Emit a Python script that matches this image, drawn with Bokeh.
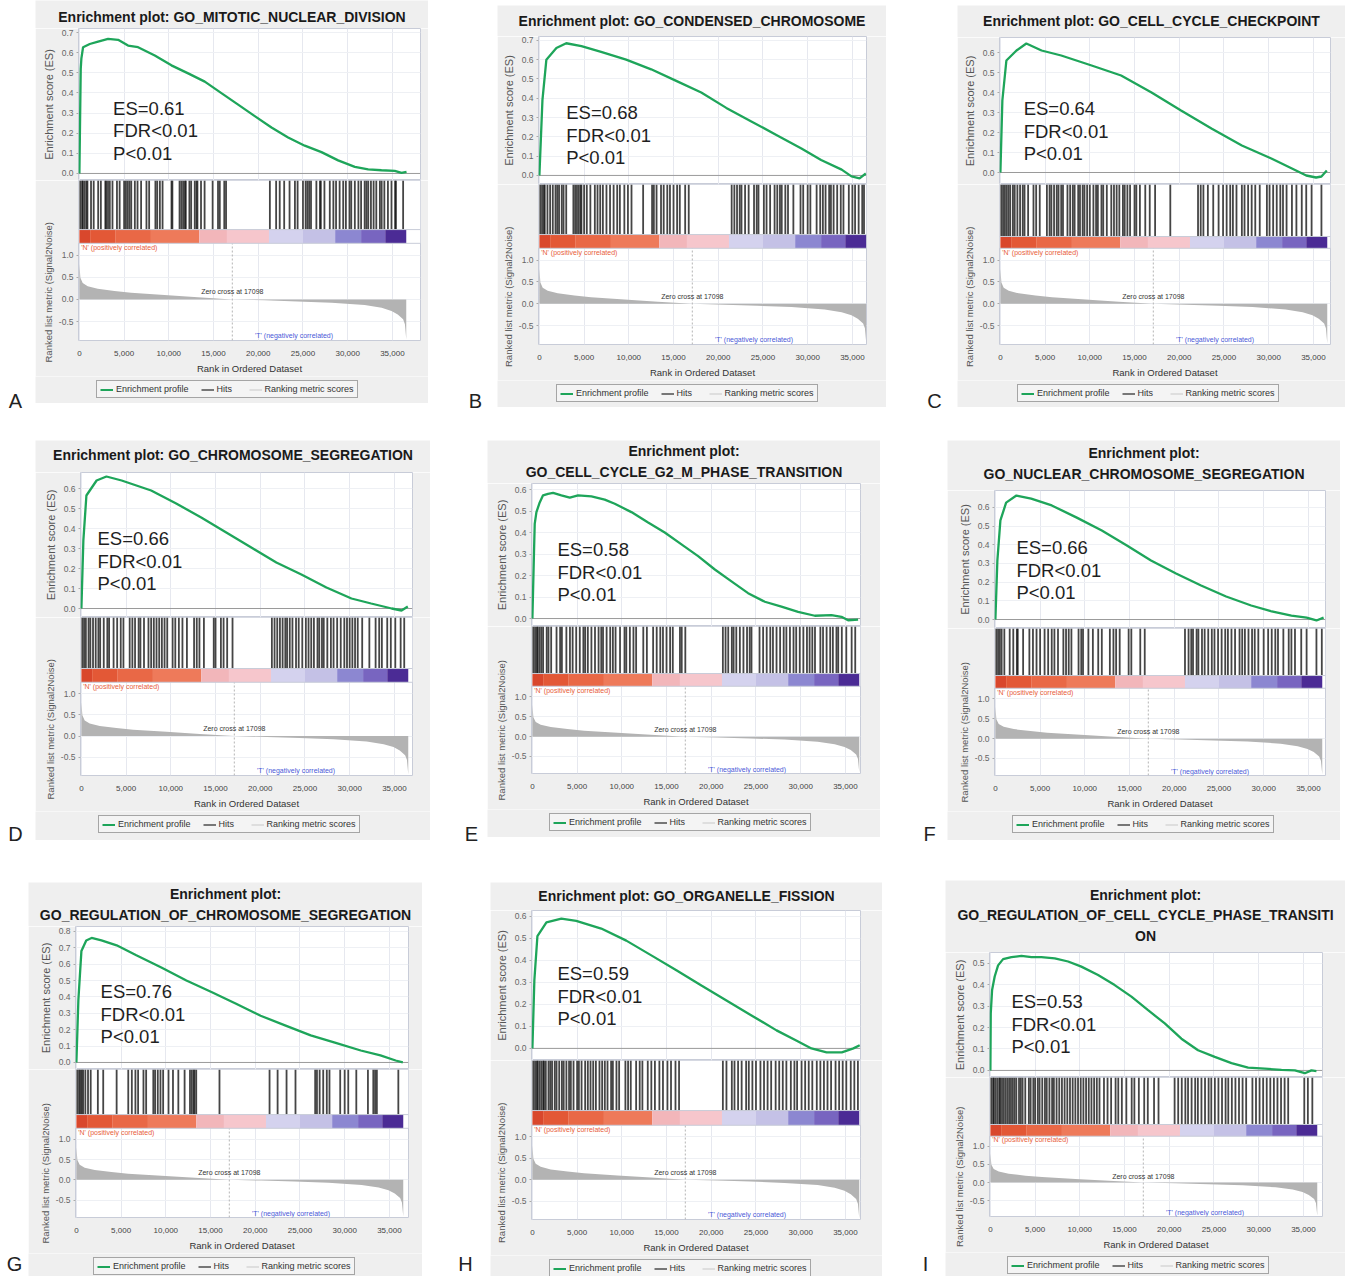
import numpy as np
from bokeh.plotting import figure
from bokeh.layouts import column, row
from bokeh.models import (Range1d, FixedTicker, NumeralTickFormatter, Label, Span, Title,
                          Legend, LegendItem, Spacer)
from bokeh.embed import file_html
from bokeh.resources import INLINE

# ---------------------------------------------------------------- data
panel_letters = ["A", "B", "C", "D", "E", "F", "G", "H", "I"]
gene_set_titles = [
    ["Enrichment plot: GO_MITOTIC_NUCLEAR_DIVISION"],
    ["Enrichment plot: GO_CONDENSED_CHROMOSOME"],
    ["Enrichment plot: GO_CELL_CYCLE_CHECKPOINT"],
    ["Enrichment plot: GO_CHROMOSOME_SEGREGATION"],
    ["Enrichment plot:", "GO_CELL_CYCLE_G2_M_PHASE_TRANSITION"],
    ["Enrichment plot:", "GO_NUCLEAR_CHROMOSOME_SEGREGATION"],
    ["Enrichment plot:", "GO_REGULATION_OF_CHROMOSOME_SEGREGATION"],
    ["Enrichment plot: GO_ORGANELLE_FISSION"],
    ["Enrichment plot:", "GO_REGULATION_OF_CELL_CYCLE_PHASE_TRANSITI", "ON"],
]
es_scores = [0.61, 0.68, 0.64, 0.66, 0.58, 0.66, 0.76, 0.59, 0.53]
fdr_label = "FDR<0.01"
p_label = "P<0.01"
es_tick_top = [0.7, 0.7, 0.6, 0.6, 0.6, 0.6, 0.8, 0.6, 0.5]

zero_cross = 17098
x_ticks = [0, 5000, 10000, 15000, 20000, 25000, 30000, 35000]
metric_ticks = [-0.5, 0.0, 0.5, 1.0]

# ranked list metric (shared by all gene sets), rank in thousands
metric_rank_k = [0, 0.11, 0.37, 0.93, 2.05, 3.92, 5.78, 9.51, 13.24, 17.098, 20.7,
                 24.4, 28.2, 31.9, 33.8, 34.9, 35.6, 36.2, 36.4, 36.55]
metric_value = [0.8, 0.49, 0.37, 0.3, 0.24, 0.19, 0.15, 0.1, 0.05, 0.0, -0.02,
                -0.045, -0.075, -0.127, -0.19, -0.26, -0.34, -0.45, -0.56, -0.9]

# colour bar of the ranked list (rank in thousands)
band_edges_k = [0, 1.2, 4.0, 8.0, 13.4, 16.5, 21.2, 25.0, 28.6, 31.5, 34.2, 36.55]
band_colors = ["#d9472c", "#e35836", "#e96846", "#ee7a5a", "#f2b6ba", "#f6c6cc",
               "#d4d2ee", "#c4c1e6", "#8c87d1", "#7865c0", "#4b2b95"]

# running enrichment score profiles (rank in thousands)
es_rank_a = [0, 0.15, 0.22, 0.41, 1.16, 2.09, 3.21, 4.33, 5.44, 6.56, 8.43, 10.29, 12.16, 14.02,
             15.88, 17.75, 19.61, 21.48, 23.34, 25.2, 27.07, 28.93, 30.8, 32.29, 33.78, 35.27, 36.02, 36.58]
es_score_a = [0, 0.52, 0.57, 0.627, 0.643, 0.655, 0.668, 0.664, 0.635, 0.627, 0.586, 0.537, 0.497, 0.456,
              0.399, 0.342, 0.285, 0.228, 0.179, 0.138, 0.106, 0.065, 0.033, 0.02, 0.016, 0.013, 0.003, 0.008]
es_rank_b = [0, 0.34, 0.78, 1.9, 3.0, 4.7, 6.9, 9.7, 12.5, 15.3, 18.1, 20.9, 23.7, 26.5, 29.3,
             31.5, 33.8, 34.9, 35.8, 36.5]
es_score_b = [0, 0.39, 0.6, 0.66, 0.685, 0.67, 0.64, 0.6, 0.55, 0.49, 0.43, 0.35, 0.28, 0.21, 0.14,
              0.08, 0.03, -0.005, -0.015, 0.01]
es_rank_c = [0, 0.22, 0.67, 1.8, 2.9, 4.6, 6.8, 10.2, 13.5, 16.9, 20.2, 23.6, 27.0, 30.3, 32.6,
             34.2, 35.3, 35.9, 36.5]
es_score_c = [0, 0.36, 0.56, 0.61, 0.645, 0.61, 0.585, 0.535, 0.485, 0.40, 0.31, 0.22, 0.135, 0.07, 0.02,
              -0.015, -0.025, -0.02, 0.01]
es_rank_d = [0, 0.22, 0.56, 1.7, 2.8, 4.5, 7.8, 10.6, 13.4, 16.2, 19.0, 21.8, 24.6, 27.4, 30.2,
             32.4, 34.7, 35.8, 36.5]
es_score_d = [0, 0.34, 0.565, 0.64, 0.66, 0.64, 0.59, 0.525, 0.455, 0.38, 0.305, 0.23, 0.17, 0.105, 0.05,
              0.025, 0.0, -0.01, 0.01]
es_rank_e = [0, 0.18, 0.26, 0.45, 0.82, 1.19, 1.75, 2.31, 3.24, 4.18, 5.11, 6.6, 8.09, 9.21, 11.07,
             12.94, 14.8, 16.67, 18.53, 20.4, 22.26, 24.12, 25.99, 27.85, 29.71, 31.58, 33.44, 34.56, 35.3, 36.42]
es_score_e = [0, 0.31, 0.44, 0.495, 0.54, 0.573, 0.58, 0.584, 0.573, 0.562, 0.573, 0.568, 0.553, 0.534, 0.495,
              0.447, 0.4, 0.345, 0.29, 0.228, 0.173, 0.118, 0.078, 0.055, 0.031, 0.013, 0.016, 0.008, -0.008, -0.005]
es_rank_f = [0, 0.22, 0.56, 1.2, 2.35, 4.0, 6.3, 9.1, 11.9, 14.7, 17.4, 20.2, 23.0, 25.8, 28.6,
             30.9, 33.1, 34.8, 35.9, 36.7]
es_score_f = [0, 0.315, 0.53, 0.625, 0.663, 0.647, 0.61, 0.545, 0.476, 0.396, 0.316, 0.246, 0.182, 0.123, 0.075,
              0.043, 0.021, 0.01, -0.005, 0.01]
es_rank_g = [0, 0.22, 0.56, 1.1, 1.7, 2.8, 4.5, 6.7, 9.5, 12.3, 15.1, 17.8, 20.6, 23.4, 26.2,
             29.0, 31.8, 34.0, 35.7, 36.5]
es_score_g = [0, 0.38, 0.68, 0.745, 0.76, 0.745, 0.715, 0.655, 0.58, 0.5, 0.43, 0.36, 0.285, 0.225, 0.165,
              0.12, 0.073, 0.043, 0.012, 0.0]
es_rank_h = [0, 0.22, 0.56, 1.57, 3.24, 4.9, 7.7, 10.5, 13.3, 16.1, 18.9, 21.7, 24.5, 27.3, 29.5,
             31.2, 32.9, 34.6, 35.9, 36.6]
es_score_h = [0, 0.31, 0.51, 0.573, 0.59, 0.58, 0.545, 0.49, 0.423, 0.355, 0.286, 0.218, 0.15, 0.082, 0.036,
              0.0, -0.018, -0.018, 0.0, 0.014]
es_rank_i = [0, 0.04, 0.19, 0.48, 0.86, 1.42, 2.35, 3.47, 4.59, 5.7, 7.2, 8.69, 10.17, 12.04, 13.9,
             15.77, 17.63, 19.5, 21.36, 23.22, 25.09, 26.96, 28.82, 30.68, 32.55, 34.04, 35.16, 35.9, 36.46]
es_score_i = [0, 0.266, 0.375, 0.438, 0.49, 0.519, 0.528, 0.534, 0.528, 0.528, 0.523, 0.508, 0.484, 0.445, 0.398,
              0.344, 0.281, 0.219, 0.148, 0.094, 0.063, 0.034, 0.013, 0.008, 0.003, 0.0, -0.013, 0.0, -0.003]

# positions of gene-set members in the ranked list (rank in thousands)
hits_a = [0.1, 0.3, 0.4, 0.6, 0.8, 0.9, 1.3, 1.6, 2.1, 2.4, 2.9, 3.0, 3.2, 3.4, 3.7, 4.2, 4.5, 5.0, 5.2,
          5.4, 5.6, 5.8, 6.2, 6.5, 6.9, 7.5, 7.8, 8.5, 8.7, 9.0, 9.3, 10.3, 10.4, 11.2, 11.4, 11.6, 11.8,
          11.9, 12.3, 12.5, 12.9, 13.1, 13.2, 13.6, 14.0, 14.9, 15.5, 15.7, 16.2, 16.4, 21.3, 22.0, 22.4,
          22.9, 23.5, 24.1, 24.4, 25.0, 25.3, 25.5, 25.7, 25.9, 26.5, 26.9, 27.0, 27.4, 28.0, 28.4, 28.7,
          29.1, 29.5, 29.8, 30.2, 30.4, 30.8, 31.2, 31.5, 31.9, 32.1, 32.3, 32.6, 32.9, 33.2, 33.6, 33.8,
          34.1, 34.5, 34.9, 35.3, 35.4, 36.2]
hits_b = [0.1, 0.3, 0.5, 0.6, 0.9, 1.2, 1.5, 1.8, 2.0, 2.2, 2.5, 2.7, 3.0, 3.8, 4.0, 4.2, 4.4, 4.6, 4.7,
          5.0, 5.3, 5.7, 6.2, 6.5, 6.8, 7.1, 7.5, 7.9, 8.3, 8.7, 9.0, 9.5, 9.9, 10.3, 11.6, 12.6, 12.8,
          13.1, 13.6, 13.9, 14.3, 14.6, 15.0, 15.4, 15.7, 16.3, 16.7, 21.5, 21.8, 22.1, 22.4, 22.6, 23.0,
          23.4, 24.0, 24.3, 24.5, 25.1, 25.4, 25.8, 26.3, 26.6, 26.9, 27.1, 27.5, 27.8, 28.4, 29.2, 29.5,
          30.0, 30.3, 31.0, 31.4, 31.7, 32.0, 32.4, 32.6, 32.9, 33.3, 33.7, 34.0, 34.6, 35.0, 35.3, 35.7,
          36.1, 36.3]
hits_c = [0.1, 0.3, 0.5, 0.7, 0.9, 1.1, 1.4, 1.6, 1.9, 2.2, 2.5, 2.7, 3.1, 3.7, 4.0, 4.4, 5.2, 5.5, 5.7,
          6.0, 6.3, 6.5, 6.8, 7.0, 7.5, 7.8, 8.1, 8.3, 8.7, 8.9, 9.2, 9.4, 9.7, 10.0, 10.4, 10.7, 10.9,
          11.3, 11.5, 11.9, 12.4, 12.7, 13.0, 13.3, 13.7, 13.9, 14.2, 14.5, 15.0, 15.2, 15.6, 16.2, 16.7,
          17.3, 19.0, 22.1, 22.4, 22.7, 23.2, 23.8, 24.4, 24.9, 25.3, 25.7, 26.0, 26.4, 27.0, 27.3, 27.7,
          28.1, 28.5, 29.0, 29.8, 30.1, 30.5, 30.9, 31.3, 31.6, 32.0, 32.6, 33.1, 33.7, 34.2, 34.8, 35.9]
hits_d = [0.1, 0.3, 0.5, 0.8, 1.0, 1.3, 1.6, 1.9, 2.1, 2.5, 2.9, 3.1, 3.6, 4.0, 4.4, 4.7, 5.4, 5.7, 6.0,
          6.4, 6.6, 7.0, 7.5, 7.8, 8.1, 8.4, 8.7, 9.0, 9.3, 9.6, 10.2, 10.5, 10.9, 11.3, 11.8, 12.6, 12.9,
          13.2, 13.7, 14.8, 15.0, 15.6, 15.9, 16.3, 16.9, 21.3, 21.6, 21.9, 22.2, 22.5, 22.8, 23.0, 23.3,
          23.6, 24.0, 24.3, 24.7, 25.1, 25.4, 25.7, 26.0, 26.4, 26.6, 26.9, 27.1, 27.5, 27.9, 28.2, 28.6,
          29.0, 29.4, 29.7, 30.0, 30.3, 30.6, 30.9, 31.4, 32.2, 32.9, 33.3, 33.6, 34.2, 34.6, 35.1, 35.7, 36.1]
hits_e = [0.1, 0.3, 0.5, 0.6, 0.8, 1.0, 1.2, 1.6, 1.8, 2.1, 2.7, 3.1, 3.3, 3.8, 4.2, 4.5, 4.9, 5.3, 5.7,
          5.9, 6.2, 6.6, 7.0, 7.4, 7.7, 7.9, 8.3, 8.7, 9.0, 9.3, 9.8, 10.3, 10.5, 10.9, 11.3, 11.6, 12.4,
          12.8, 13.5, 13.9, 14.3, 14.6, 15.0, 15.4, 15.7, 16.5, 16.7, 17.1, 21.3, 21.6, 21.9, 22.3, 22.5,
          22.8, 23.2, 23.6, 24.0, 24.3, 24.5, 25.4, 25.8, 26.2, 26.6, 26.9, 27.3, 27.7, 28.1, 28.4, 28.8,
          29.2, 29.5, 29.9, 30.3, 30.7, 31.0, 31.3, 31.6, 32.2, 32.5, 32.9, 33.3, 33.6, 34.0, 34.2, 34.6,
          35.1, 35.7, 36.1]
hits_f = [0.1, 0.3, 0.5, 0.7, 1.0, 1.6, 2.0, 2.4, 2.5, 3.1, 3.8, 4.2, 4.6, 5.0, 5.5, 5.9, 6.3, 6.6, 7.0,
          7.6, 7.9, 8.2, 8.5, 9.3, 9.6, 9.8, 10.4, 10.9, 11.5, 11.9, 12.8, 13.2, 13.5, 13.9, 14.9, 15.2,
          16.2, 16.7, 21.2, 21.6, 21.9, 22.1, 22.5, 22.7, 23.1, 23.4, 23.8, 24.2, 24.5, 24.9, 25.3, 25.7,
          26.0, 26.4, 26.8, 27.3, 27.6, 27.9, 28.3, 28.7, 29.0, 29.4, 30.0, 30.5, 30.9, 31.3, 31.6, 32.2,
          32.8, 33.1, 33.5, 34.2, 34.8, 35.9, 36.5]
hits_g = [0.1, 0.3, 0.45, 0.6, 0.75, 1.0, 1.3, 1.6, 2.4, 3.0, 4.5, 5.8, 6.2, 6.6, 6.9, 7.5, 7.8, 8.6, 8.8,
          9.1, 9.4, 9.7, 10.3, 10.8, 11.4, 12.1, 12.7, 12.9, 13.1, 13.2, 13.4, 16.0, 21.6, 22.5, 23.5, 24.5,
          26.7, 26.9, 27.2, 27.6, 28.0, 28.3, 29.5, 30.0, 30.4, 31.3, 32.6, 33.2, 33.4, 33.6, 36.0]
hits_h = [0.1, 0.3, 0.5, 0.6, 0.8, 1.0, 1.2, 1.3, 1.5, 1.8, 2.0, 2.2, 2.5, 2.7, 3.0, 3.3, 3.5, 3.8, 4.1,
          4.3, 4.6, 5.0, 5.2, 5.5, 5.9, 6.2, 6.5, 6.8, 7.1, 7.5, 7.8, 8.1, 8.4, 8.8, 9.0, 9.4, 9.7, 10.4,
          10.7, 11.0, 11.6, 12.0, 12.3, 12.9, 13.3, 13.7, 14.2, 14.6, 15.1, 15.5, 16.0, 16.4, 21.3, 21.7,
          22.3, 22.6, 23.0, 23.4, 23.9, 24.2, 24.6, 25.0, 25.5, 25.9, 26.3, 26.7, 27.2, 27.6, 28.0, 28.4,
          28.9, 29.3, 29.6, 30.1, 30.5, 30.9, 31.3, 31.8, 32.2, 32.6, 33.0, 33.4, 33.9, 34.3, 34.7, 35.1,
          35.6, 36.0, 36.4]
hits_i = [0.1, 0.3, 0.4, 0.6, 0.8, 1.0, 1.1, 1.3, 1.5, 1.7, 1.9, 2.1, 2.3, 2.5, 2.7, 2.9, 3.2, 3.4, 3.6,
          3.9, 4.3, 4.5, 4.8, 5.0, 5.3, 5.5, 5.8, 6.1, 6.3, 6.6, 6.9, 7.1, 7.4, 7.7, 8.0, 8.3, 8.6, 8.9,
          9.2, 9.5, 9.8, 10.1, 10.4, 10.7, 11.0, 11.3, 11.6, 11.9, 12.2, 12.7, 13.1, 13.5, 14.0, 14.3, 14.7,
          15.2, 15.8, 16.1, 16.6, 17.2, 17.6, 18.3, 18.8, 20.6, 21.0, 21.4, 21.8, 22.1, 22.5, 22.9, 23.2,
          23.6, 24.0, 24.4, 24.7, 25.1, 25.5, 25.9, 26.3, 26.6, 27.0, 27.4, 27.8, 28.2, 28.6, 29.3, 29.7,
          30.1, 30.5, 30.9, 31.3, 31.7, 32.1, 32.5, 32.9, 33.3, 35.1, 35.5, 36.0]

es_ranks = [es_rank_a, es_rank_b, es_rank_c, es_rank_d, es_rank_e, es_rank_f, es_rank_g, es_rank_h, es_rank_i]
es_profiles = [es_score_a, es_score_b, es_score_c, es_score_d, es_score_e, es_score_f, es_score_g,
               es_score_h, es_score_i]
hit_lists = [hits_a, hits_b, hits_c, hits_d, hits_e, hits_f, hits_g, hits_h, hits_i]

# ---------------------------------------------------------------- layout settings
FONT = "Liberation Sans"
PANEL_BG = "#efefef"
FRAME_LINE = "#c8ccd8"
GRID_LINE = "#e6e8ef"
GREEN = "#1ea55a"
PX_PER_RANK = 313.0 / 35000.0          # horizontal pixels per rank
AXIS_H = 33                            # x tick labels + axis title below the metric frame
METRIC_LABEL_LEN = 143                 # rendered length of the metric axis title

panel_w = [393, 389, 388, 395, 393, 393, 394, 392, 400]
border_l = [43, 41, 42, 45, 44, 47, 47, 41, 44]
border_r = [8, 20, 15, 18, 20, 15, 14, 22, 23]
top_off = [0, 5, 5, 0, 0, 0, 2, 2, 0]
title_h = [28, 31, 32, 32, 43, 50, 44, 28, 72]
title_gap = [12, 16, 17, 18, 12, 17, 12, 15, 17]
es_h = [152, 148, 147, 145, 143, 138, 143, 150, 125]
es_lo = [-0.035, -0.047, -0.06, -0.045, -0.037, -0.048, -0.043, -0.055, -0.033]
es_hi = [0.72, 0.72, 0.675, 0.68, 0.628, 0.69, 0.83, 0.627, 0.55]
hits_h = [64, 65, 65, 66, 61, 61, 60, 66, 60]
cb_h = [14, 14, 12, 14, 13, 13, 14, 15, 12]
met_h = [99, 98, 98, 95, 89, 89, 91, 96, 82]
bottom_h = [60, 60, 60, 62, 61, 62, 56, 54, 57]
stat_x_k = [3.77, 3.0, 2.6, 1.8, 2.8, 2.35, 2.7, 2.8, 2.35]
stat_y = [0.323, 0.326, 0.32, 0.35, 0.32, 0.385, 0.433, 0.34, 0.32]
METRIC_RANGE = (-0.93, 1.27)

row_heights = [440, 440, 396]
label_zone_w = [[35, 69, 71], [35, 57, 67], [28, 68, 63]]
label_cx = [[15, 47, 48], [15, 41, 49], [14, 43, 43]]
label_cy = [400, 393, 383]


def new_fig(W, H, xr, yr, L=0, R=0, top=0, bottom=0, xloc=None, yloc=None):
    f = figure(width=W, height=H, x_range=xr, y_range=yr, output_backend="svg",
               toolbar_location=None, x_axis_location=xloc, y_axis_location=yloc,
               min_border_left=L, min_border_right=R, min_border_top=top,
               min_border_bottom=bottom, frame_align=False)
    f.background_fill_color = "white"
    f.border_fill_color = PANEL_BG
    f.outline_line_color = FRAME_LINE
    return f


def plain_fig(W, H, bg):
    f = figure(width=W, height=H, x_range=Range1d(0, W), y_range=Range1d(0, H),
               output_backend="svg", toolbar_location=None, x_axis_location=None,
               y_axis_location=None, min_border=0, frame_align=False)
    f.background_fill_color = bg
    f.border_fill_color = bg
    f.outline_line_color = None
    f.xgrid.visible = False
    f.ygrid.visible = False
    return f


def set_grid(f, xt, yt):
    for g in f.xgrid:
        g.ticker = FixedTicker(ticks=xt)
        g.grid_line_color = GRID_LINE
    for g in f.ygrid:
        g.ticker = FixedTicker(ticks=yt)
        g.grid_line_color = "#eef0f4"


def style_yaxis(ax, ticks, label, size):
    ax.ticker = FixedTicker(ticks=ticks)
    ax.formatter = NumeralTickFormatter(format="0.0")
    ax.axis_label = label
    ax.axis_label_text_font = FONT
    ax.axis_label_text_font_size = size
    ax.axis_label_text_font_style = "normal"
    ax.axis_label_text_color = "#555555"
    ax.axis_label_standoff = 4
    ax.major_label_text_font = FONT
    ax.major_label_text_font_size = "8.5px"
    ax.major_label_text_color = "#666666"
    ax.major_label_standoff = 3
    ax.axis_line_color = None
    ax.major_tick_line_color = "#aaaaaa"
    ax.major_tick_out = 2
    ax.major_tick_in = 0
    ax.minor_tick_line_color = None


def build_panel(i):
    W, L, R = panel_w[i], border_l[i], border_r[i]
    frame_w = W - L - R
    xr = Range1d(-100, -100 + frame_w / PX_PER_RANK)
    parts = []
    if top_off[i] > 0:
        parts.append(Spacer(width=W, height=top_off[i]))

    # title block
    th = title_h[i]
    tf = plain_fig(W, th, PANEL_BG)
    lines = gene_set_titles[i]
    n = len(lines)
    for j, line in enumerate(lines):
        tf.add_layout(Label(x=W / 2, y=title_gap[i] + (n - 1 - j) * 20.5, text=line,
                            text_align="center", text_baseline="middle", text_font=FONT,
                            text_font_style="bold", text_font_size="14px",
                            text_color="#1a1a1a"))
    parts.append(tf)

    # running enrichment score
    ef = new_fig(W, es_h[i], xr, Range1d(es_lo[i], es_hi[i]), L, R, yloc="left")
    ticks = [round(0.1 * k, 1) for k in range(int(round(es_tick_top[i] * 10)) + 1)]
    style_yaxis(ef.yaxis[0], ticks, "Enrichment score (ES)", "11px")
    set_grid(ef, x_ticks, ticks)
    ef.add_layout(Span(location=0, dimension="width", line_color="#9a9a9a",
                       line_width=1, level="underlay"))
    ef.line(x=np.array(es_ranks[i]) * 1000, y=es_profiles[i], line_color=GREEN,
            line_width=2.3)
    px_per_es = es_h[i] / (es_hi[i] - es_lo[i])
    stats = [f"ES={es_scores[i]:.2f}", fdr_label, p_label]
    for j, s in enumerate(stats):
        ef.add_layout(Label(x=stat_x_k[i] * 1000, y=stat_y[i] - j * 22.5 / px_per_es, text=s,
                            text_baseline="middle", text_font=FONT,
                            text_font_size="18.5px", text_color="#1f1f1f"))
    parts.append(ef)

    # hits, colour bar and ranked list metric share one frame
    px_per_metric = met_h[i] / (METRIC_RANGE[1] - METRIC_RANGE[0])
    y_top = METRIC_RANGE[1] + hits_h[i] / px_per_metric
    mf = new_fig(W, hits_h[i] + met_h[i] + AXIS_H, xr, Range1d(METRIC_RANGE[0], y_top),
                 L, R, bottom=AXIS_H, xloc="below", yloc="left")
    mf.extra_y_ranges = {"hits": Range1d(-met_h[i] / hits_h[i], 1)}
    style_yaxis(mf.yaxis[0], metric_ticks, None, "9.5px")
    mf.add_layout(Title(text="Ranked list metric (Signal2Noise)", align="left",
                        offset=met_h[i] / 2 - METRIC_LABEL_LEN / 2, standoff=4,
                        text_font=FONT, text_font_size="9.5px", text_font_style="normal",
                        text_color="#555555"), "left")
    set_grid(mf, x_ticks, metric_ticks)
    xa = mf.xaxis[0]
    xa.ticker = FixedTicker(ticks=x_ticks)
    xa.formatter = NumeralTickFormatter(format="0,0")
    xa.axis_label = "Rank in Ordered Dataset"
    xa.axis_label_text_font = FONT
    xa.axis_label_text_font_size = "9.5px"
    xa.axis_label_text_font_style = "normal"
    xa.axis_label_text_color = "#333333"
    xa.axis_label_standoff = 4
    xa.major_label_text_font = FONT
    xa.major_label_text_font_size = "8px"
    xa.major_label_text_color = "#444444"
    xa.major_label_standoff = 4
    xa.axis_line_color = None
    xa.major_tick_line_color = None
    xa.minor_tick_line_color = None

    # plain white strip behind the hits so the grid only shows in the metric area
    mf.quad(left=xr.start, right=xr.end, bottom=0, top=1, fill_color="white",
            line_color=None, y_range_name="hits")
    cbf = cb_h[i] / hits_h[i]
    edges = np.array(band_edges_k) * 1000
    mf.quad(left=edges[:-1], right=edges[1:], bottom=0, top=cbf, fill_color=band_colors,
            line_color=None, y_range_name="hits")
    hx = np.array(hit_lists[i]) * 1000
    mf.segment(x0=hx, y0=cbf, x1=hx, y1=1, line_color="#111111", line_width=1.8,
               line_alpha=0.78, y_range_name="hits")
    mf.add_layout(Span(location=cbf, dimension="width", line_color=FRAME_LINE, line_width=1,
                       y_range_name="hits"))
    mf.add_layout(Span(location=0, dimension="width", line_color=FRAME_LINE, line_width=1,
                       y_range_name="hits"))

    mf.varea(x=np.array(metric_rank_k) * 1000, y1=0, y2=metric_value, fill_color="#b3b3b3")
    mf.segment(x0=[zero_cross], y0=[METRIC_RANGE[0]], x1=[zero_cross], y1=[METRIC_RANGE[1]],
               line_color="#b5b5b5", line_dash="2 2", line_width=1)
    mf.add_layout(Label(x=zero_cross, y=0.17, text=f"Zero cross at {zero_cross}",
                        text_align="center", text_baseline="middle", text_font=FONT,
                        text_font_size="7px", text_color="#333333"))
    mf.add_layout(Label(x=200, y=1.17, text="'N' (positively correlated)",
                        text_baseline="middle", text_font=FONT, text_font_size="7px",
                        text_color="#e8603c"))
    mf.add_layout(Label(x=24000, y=-0.82, text="'T' (negatively correlated)",
                        text_align="center", text_baseline="middle", text_font=FONT,
                        text_font_size="7px", text_color="#4a5ad8"))
    parts.append(mf)

    # legend strip
    lh = bottom_h[i] - AXIS_H
    lf = plain_fig(W, lh, PANEL_BG)
    r1 = lf.line(x=[np.nan], y=[np.nan], line_color=GREEN, line_width=2)
    r2 = lf.line(x=[np.nan], y=[np.nan], line_color="#333333", line_width=1.3)
    r3 = lf.line(x=[np.nan], y=[np.nan], line_color="#d2d2d2", line_width=1.3)
    leg = Legend(items=[LegendItem(label="Enrichment profile", renderers=[r1]),
                        LegendItem(label="Hits", renderers=[r2]),
                        LegendItem(label="Ranking metric scores", renderers=[r3])],
                 orientation="horizontal", location=(L + 18, lh - 22),
                 label_text_font=FONT, label_text_font_size="9px", label_text_color="#333333",
                 glyph_width=13, glyph_height=9, label_height=9, label_standoff=3,
                 spacing=12, padding=3, margin=0,
                 border_line_color="#555555", border_line_width=1,
                 background_fill_color="#f4f4f4", background_fill_alpha=1.0)
    lf.add_layout(leg)
    parts.append(lf)
    return column(*parts)


def letter_fig(letter, w, h, cx, cy):
    f = plain_fig(w, h, "white")
    f.add_layout(Label(x=cx, y=h - cy, text=letter, text_align="center",
                       text_baseline="middle", text_font=FONT, text_font_size="20px",
                       text_color="#222222"))
    return f


rows = []
for r in range(3):
    kids = []
    for c in range(3):
        i = r * 3 + c
        kids.append(letter_fig(panel_letters[i], label_zone_w[r][c], row_heights[r],
                               label_cx[r][c], label_cy[r]))
        kids.append(build_panel(i))
    rows.append(row(*kids))

page = column(*rows)
open("out.html", "w").write(file_html(page, INLINE))
